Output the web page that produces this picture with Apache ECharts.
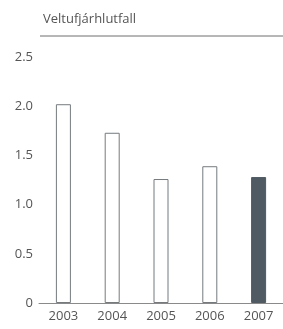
<!DOCTYPE html>
<html>
<head>
<meta charset="utf-8">
<script src="https://cdn.jsdelivr.net/npm/echarts@6/dist/echarts.min.js"></script>
<style>
  html, body { margin: 0; padding: 0; background: #fff; }
  #chart { width: 283px; height: 329px; }
</style>
</head>
<body>
<div id="chart"></div>
<script>
// data
var years = ['2003', '2004', '2005', '2006', '2007'];
var ratio = [2.02, 1.73, 1.26, 1.39, 1.28];
var yTicks = [0, 0.5, 1.0, 1.5, 2.0, 2.5];

var textColor = '#555';
var fontFam = '"Open Sans", "Noto Sans", sans-serif';

var chart = echarts.init(document.getElementById('chart'));
chart.setOption({
  animation: false,
  title: {
    text: 'Veltufjárhlutfall',
    left: 38,
    top: 8,
    textStyle: { color: textColor, fontSize: 13, fontWeight: 'normal', fontFamily: fontFam }
  },
  graphic: [{
    type: 'line',
    shape: { x1: 40, y1: 36, x2: 283, y2: 36 },
    style: { stroke: '#6e6e6e', lineWidth: 1 }
  }],
  grid: { left: 39, right: -6, top: 57, bottom: 26 },
  xAxis: {
    type: 'category',
    data: years,
    axisLine: { lineStyle: { color: '#8a8a8a', width: 1 } },
    axisTick: { show: false },
    axisLabel: { color: textColor, fontSize: 13, fontFamily: fontFam, margin: 7 }
  },
  yAxis: {
    type: 'value',
    min: 0,
    max: 2.5,
    interval: 0.5,
    splitLine: { show: false },
    axisLine: { show: false },
    axisTick: { show: false },
    axisLabel: {
      color: textColor, fontSize: 13, fontFamily: fontFam, margin: 6,
      formatter: function (v) { return v === 0 ? '0' : v.toFixed(1); }
    }
  },
  series: [{
    type: 'bar',
    barWidth: 15,
    data: ratio.map(function (v, i) {
      var last = i === ratio.length - 1;
      return {
        value: v,
        itemStyle: {
          color: last ? '#4f5a62' : '#ffffff',
          borderColor: last ? '#4f5a62' : '#757a7e',
          borderWidth: 1
        }
      };
    })
  }]
});
</script>
</body>
</html>
